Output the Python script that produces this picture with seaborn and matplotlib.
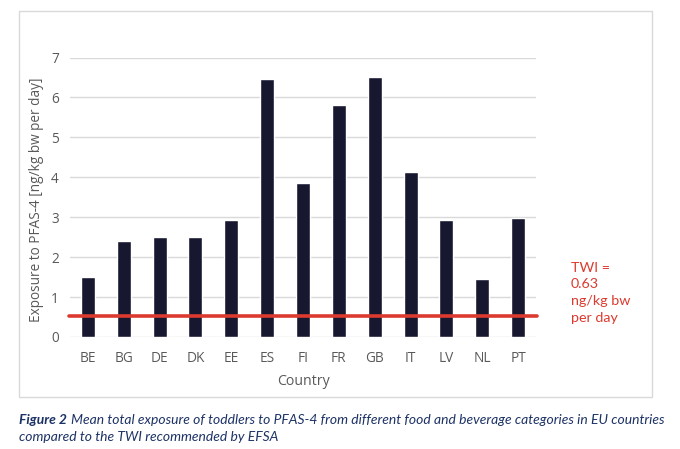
import numpy as np
import matplotlib.pyplot as plt
import seaborn as sns
import pandas as pd
from matplotlib.patches import Rectangle

countries = ['BE', 'BG', 'DE', 'DK', 'EE', 'ES', 'FI', 'FR', 'GB', 'IT', 'LV', 'NL', 'PT']
exposure = [1.5, 2.4, 2.5, 2.5, 2.92, 6.45, 3.85, 5.82, 6.5, 4.12, 2.92, 1.45, 2.99]
twi_line = 0.52   # where the red line sits in the picture
twi_text = 'TWI =\n0.63\nng/kg bw\nper day'

df = pd.DataFrame({'Country': countries, 'Exposure': exposure})

sns.set_style('white')
plt.rcParams['font.family'] = ['Open Sans', 'DejaVu Sans']

fig = plt.figure(figsize=(6.8, 4.49), dpi=100)
W, H = 680, 449

# outer frame around the chart
fig.patches.append(Rectangle((19 / W, 1 - 397 / H), 633 / W, 386 / H,
                             transform=fig.transFigure, fill=False,
                             edgecolor='#d9d9d9', linewidth=1))

ax = fig.add_axes([70 / W, 112 / H, 466 / W, 279.5 / H])
sns.barplot(data=df, x='Country', y='Exposure', color='#171830',
            width=0.39, saturation=1, ax=ax)

ax.set_ylim(0, 7)
ax.set_xlim(-0.5, len(countries) - 0.5)
ax.set_yticks(range(0, 8))
ax.grid(axis='y', color='#d9d9d9', linewidth=1)
ax.set_axisbelow(True)
sns.despine(ax=ax, left=True, bottom=True)
ax.tick_params(axis='both', length=0, labelsize=9.8, colors='#595959', pad=8)
ax.tick_params(axis='x', pad=10)

ax.set_xlabel('Country', fontsize=10.2, color='#595959', labelpad=6)
ax.set_ylabel('Exposure to PFAS-4 [ng/kg bw per day]', fontsize=9.8,
              color='#595959')
ax.yaxis.set_label_coords(-0.056, 0.49)

ax.axhline(twi_line, xmin=-0.003, xmax=1.003, color='#dc3a2f',
           linewidth=2.6, clip_on=False, zorder=5)

fig.text(571 / W, 1 - 262 / H, twi_text, color='#dc3a2f', fontsize=10.3,
         va='top', ha='left', linespacing=1.45, family=['Lato', 'DejaVu Sans'])

cap_color = '#1d3366'
fig.text(19 / W, 1 - 420 / H, 'Figure 2', fontsize=10, color=cap_color,
         fontweight='bold', fontstyle='italic', va='center',
         family=['Lato', 'DejaVu Sans'])
fig.text(71 / W, 1 - 420 / H,
         'Mean total exposure of toddlers to PFAS-4 from different food and beverage categories in EU countries',
         fontsize=10, color=cap_color, fontstyle='italic', va='center',
         family=['Lato', 'DejaVu Sans'])
fig.text(19 / W, 1 - 437 / H, 'compared to the TWI recommended by EFSA',
         fontsize=10, color=cap_color, fontstyle='italic', va='center',
         family=['Lato', 'DejaVu Sans'])

fig.savefig('out.png', dpi=100)
